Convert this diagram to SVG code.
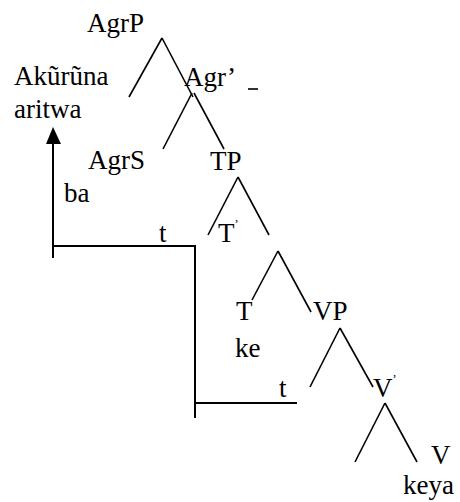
<svg xmlns="http://www.w3.org/2000/svg" width="460" height="502" viewBox="0 0 460 502">
<defs>
<style>
line,polyline{stroke:#000;stroke-width:1.6;fill:none}
.mv{stroke-width:2}
</style>
</defs>
<rect width="460" height="502" fill="#fff"/>
<g id="connectors">
<line x1="162" y1="38" x2="129" y2="97"/>
<line x1="162" y1="38" x2="193" y2="97"/>
<line x1="192" y1="93" x2="163" y2="149"/>
<line x1="194" y1="93" x2="224" y2="149"/>
<line x1="238" y1="177" x2="208" y2="235"/>
<line x1="238" y1="177" x2="269" y2="235"/>
<line x1="278" y1="251" x2="252" y2="300"/>
<line x1="278" y1="251" x2="311" y2="312"/>
<line x1="340" y1="328" x2="310" y2="387"/>
<line x1="340" y1="328" x2="373" y2="387"/>
<line x1="385" y1="403" x2="355" y2="462"/>
<line x1="385" y1="403" x2="417" y2="462"/>
<line class="mv" x1="53" y1="258" x2="53" y2="143"/>
<path d="M53,127 L46,144 L61,144 z" fill="#000"/>
<polyline class="mv" points="53,246 195,246 195,418"/>
<line class="mv" x1="195" y1="403" x2="297" y2="403"/>
</g>
<g font-family="Liberation Serif, Times New Roman, serif" font-size="27" fill="#000">
<g id="n-agrp"><text x="87" y="32">AgrP</text></g>
<g id="n-akuruna"><text x="14" y="85">Akũrũna</text><text x="14" y="118">aritwa</text></g>
<g id="n-agrbar"><text x="184" y="86">Agr’</text><line x1="248" y1="89" x2="258" y2="89" stroke-width="1.4"/></g>
<g id="n-agrs"><text x="88" y="169">AgrS</text></g>
<g id="n-tp"><text x="210" y="170">TP</text></g>
<g id="n-ba"><text x="64" y="202">ba</text></g>
<g id="n-t1"><text x="159" y="242">t</text></g>
<g id="n-tbar"><text x="218" y="242">T<tspan font-size="12" dy="-14">’</tspan></text></g>
<g id="n-t"><text x="236" y="320">T</text><text x="235" y="357">ke</text></g>
<g id="n-vp"><text x="313" y="320">VP</text></g>
<g id="n-t2"><text x="279" y="397">t</text></g>
<g id="n-vbar"><text x="373" y="397">V<tspan font-size="12" dy="-14">’</tspan></text></g>
<g id="n-v"><text x="431" y="464">V</text><text x="403" y="494">keya</text></g>
</g>
</svg>
